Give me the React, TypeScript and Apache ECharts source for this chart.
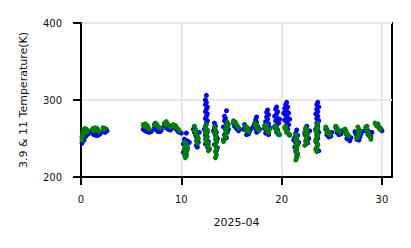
import React, { useEffect, useRef } from "react";
import * as echarts from "echarts";

const xTicks = [0, 10, 20, 30];
const yTicks = [200, 300, 400];

// 3.9 um brightness temperature (blue)
const blue39: number[][] = [
  [0.1,244],[0.2,247],[0.15,250],[0.3,252],[0.4,255],[0.5,256],[0.6,257],[0.7,258],[0.8,259],[0.3,248],[0.5,253],[0.7,256],
  [1.1,257],[1.3,255],[1.5,254],[1.7,254],[1.9,256],[2.0,258],[1.2,259],[1.6,257],
  [2.3,259],[2.4,258],[2.6,260],[2.5,262],
  [6.2,262],[6.4,260],[6.6,259],[6.8,258],[7.0,259],[6.3,264],[6.7,262],[6.5,263],
  [7.3,263],[7.5,261],[7.7,259],[7.9,259],[8.0,261],[7.4,265],[7.8,263],
  [8.3,266],[8.5,264],[8.7,262],[8.9,261],[9.0,263],[8.4,270],[8.8,265],
  [9.2,266],[9.4,264],[9.6,261],[9.8,258],[10.0,257],[9.5,262],[9.7,259],
  [10.5,257],[10.3,249],[10.4,246],[10.6,247],[10.2,243],[10.5,242],[10.7,244],[10.4,239],[10.3,236],[10.6,238],[10.2,232],[10.5,230],[10.8,245],
  [11.2,262],[11.3,258],[11.4,255],[11.5,252],[11.6,248],[11.7,245],[11.5,241],[11.8,258],[11.3,265],[11.6,239],
  [12.5,306],[12.4,300],[12.5,297],[12.4,294],[12.6,291],[12.5,288],[12.4,285],[12.6,282],[12.5,279],[12.4,276],[12.6,273],[12.5,270],[12.4,266],[12.3,262],[12.6,258],[12.4,254],[12.5,250],[12.7,246],[12.4,243],[12.6,239],[12.8,236],
  [13.3,270],[13.4,266],[13.3,262],[13.5,258],[13.4,254],[13.6,250],[13.5,246],[13.3,242],[13.6,238],[13.5,234],[13.2,260],
  [14.5,286],[14.3,279],[14.4,276],[14.3,273],[14.5,270],[14.6,267],[14.2,265],[14.4,262],[14.6,258],[14.3,255],[14.5,251],[14.2,248],[14.7,262],
  [15.2,270],[15.4,268],[15.6,265],[15.8,262],[15.5,263],[15.3,266],[15.7,260],
  [16.3,268],[16.4,264],[16.5,261],[16.6,258],[16.7,256],[16.8,259],[16.5,255],[16.9,262],[16.2,262],
  [17.5,278],[17.4,274],[17.5,271],[17.3,268],[17.6,266],[17.4,263],[17.7,260],[17.5,258],[17.8,262],[17.2,266],
  [18.6,287],[18.5,284],[18.7,281],[18.5,278],[18.6,275],[18.4,272],[18.7,269],[18.5,266],[18.3,263],[18.6,260],[18.4,257],[18.7,255],[18.8,264],
  [19.5,291],[19.4,288],[19.6,285],[19.5,282],[19.3,279],[19.6,276],[19.4,273],[19.7,270],[19.5,267],[19.3,264],[19.6,261],[19.5,258],[19.7,255],[19.8,275],
  [20.5,297],[20.4,294],[20.6,291],[20.3,289],[20.5,286],[20.7,283],[20.4,280],[20.6,277],[20.3,274],[20.5,271],[20.7,268],[20.4,265],[20.6,262],[20.5,258],[20.8,255],[20.2,283],[20.8,275],
  [21.5,261],[21.4,257],[21.6,254],[21.3,251],[21.5,248],[21.4,245],[21.6,242],[21.3,239],[21.5,236],[21.4,233],[21.6,230],[21.5,227],[21.7,245],[21.2,248],
  [22.5,266],[22.4,262],[22.6,259],[22.3,256],[22.5,253],[22.7,250],[22.4,247],[22.8,260],[22.6,244],
  [23.6,297],[23.5,294],[23.7,291],[23.5,288],[23.6,285],[23.4,282],[23.6,279],[23.5,276],[23.7,273],[23.5,270],[23.6,266],[23.4,262],[23.7,258],[23.5,254],[23.6,250],[23.4,246],[23.6,242],[23.5,238],[23.7,234],
  [24.4,262],[24.6,259],[24.8,256],[24.9,253],[24.5,255],[24.7,252],[25.0,258],
  [25.4,264],[25.6,261],[25.8,258],[25.9,256],[25.5,258],[25.7,255],[26.0,260],
  [26.3,262],[26.4,258],[26.5,255],[26.6,252],[26.7,249],[26.8,247],[26.9,251],[26.5,250],
  [27.3,259],[27.4,256],[27.5,253],[27.6,250],[27.7,248],[27.8,252],[27.9,256],[28.0,259],[27.5,249],
  [28.4,265],[28.5,262],[28.7,259],[28.8,256],[28.9,253],[28.6,255],[29.0,258],[28.3,260],
  [29.5,268],[29.7,265],[29.9,262],[30.0,260],[29.8,263],[29.6,266],
];

// 11 um brightness temperature (green)
const green11: number[][] = [
  [0.1,252],[0.15,256],[0.2,259],[0.3,262],[0.4,263],[0.5,262],[0.6,261],[0.2,254],[0.3,258],[0.45,259],[0.6,258],[0.1,248],
  [1.1,261],[1.2,263],[1.4,264],[1.5,262],[1.7,261],[1.8,259],[1.3,260],[1.6,263],
  [2.2,264],[2.3,262],[2.4,263],
  [6.2,268],[6.3,266],[6.5,265],[6.7,264],[6.8,262],[6.4,269],[6.6,267],
  [7.3,268],[7.4,270],[7.6,267],[7.7,265],[7.9,264],[7.5,269],
  [8.3,270],[8.5,272],[8.6,269],[8.8,267],[8.9,265],[8.4,268],
  [9.2,268],[9.3,266],[9.5,265],[9.7,262],[9.8,260],[9.4,267],
  [10.3,245],[10.5,243],[10.4,240],[10.6,238],[10.3,236],[10.5,234],[10.4,232],[10.3,229],[10.5,227],[10.4,225],[10.6,235],
  [11.3,266],[11.4,262],[11.5,259],[11.4,256],[11.6,253],[11.7,250],[11.5,247],[11.6,244],[11.3,260],
  [12.5,268],[12.4,264],[12.6,261],[12.4,258],[12.5,255],[12.6,252],[12.4,249],[12.5,246],[12.7,243],[12.6,240],[12.8,237],[12.7,234],
  [13.3,265],[13.4,261],[13.3,257],[13.5,253],[13.4,249],[13.5,245],[13.4,241],[13.5,237],[13.4,233],[13.5,229],[13.4,225],
  [14.6,271],[14.5,267],[14.6,264],[14.4,261],[14.5,258],[14.3,255],[14.4,252],[14.3,249],[14.2,246],[14.7,268],
  [15.2,273],[15.3,270],[15.5,268],[15.6,266],[15.7,264],[15.4,271],
  [16.4,266],[16.5,263],[16.6,260],[16.7,259],[16.4,261],[16.6,264],
  [17.3,270],[17.4,267],[17.5,265],[17.6,263],[17.7,261],[17.5,268],
  [18.3,267],[18.4,264],[18.5,262],[18.6,260],[18.7,258],[18.5,268],[18.8,262],
  [19.3,266],[19.4,263],[19.5,261],[19.6,259],[19.7,257],[19.8,255],[19.5,265],
  [20.3,264],[20.4,262],[20.5,260],[20.6,258],[20.7,256],[20.8,254],[20.4,266],
  [21.4,255],[21.5,252],[21.4,249],[21.5,246],[21.6,243],[21.4,240],[21.5,237],[21.4,234],[21.5,231],[21.6,228],[21.5,225],[21.4,222],
  [22.4,264],[22.5,261],[22.3,258],[22.6,256],[22.4,253],[22.5,250],[22.4,247],[22.5,244],[22.3,241],
  [23.6,270],[23.5,266],[23.6,263],[23.4,260],[23.5,257],[23.6,254],[23.5,251],[23.4,248],[23.5,245],[23.6,242],[23.5,239],[23.4,236],[23.5,233],
  [24.4,265],[24.5,262],[24.6,260],[24.7,257],[24.8,255],[24.5,258],
  [25.4,266],[25.5,264],[25.6,262],[25.7,260],[25.8,258],[25.5,261],
  [26.3,262],[26.4,260],[26.5,257],[26.6,255],[26.7,253],[26.4,256],
  [27.6,265],[27.7,262],[27.6,259],[27.7,256],[27.6,253],[27.5,251],[27.8,260],
  [28.4,264],[28.5,261],[28.6,258],[28.7,255],[28.8,252],[28.9,249],[28.5,266],
  [29.3,270],[29.4,268],[29.5,266],[29.7,264],[29.6,269],[29.8,262],
];

const FONT = "DejaVu Sans";

export default function App() {
  const ref = useRef<HTMLDivElement>(null);
  useEffect(() => {
    if (!ref.current) return;
    const chart = echarts.init(ref.current, null, { renderer: "svg" });
    chart.setOption({
      animation: false,
      grid: {
        left: 81,
        right: 19,
        top: 23,
        bottom: 71,
        show: true,
        borderColor: "#000",
        borderWidth: 2,
        backgroundColor: "transparent",
      },
      xAxis: {
        type: "value",
        min: 0,
        max: 31,
        interval: 10,
        name: "2025-04",
        nameLocation: "middle",
        nameGap: 40,
        nameTextStyle: { fontFamily: FONT, fontSize: 11, color: "#111" },
        axisLine: { show: true, lineStyle: { color: "#000", width: 2 } },
        axisTick: { show: true, length: 8, lineStyle: { color: "#000", width: 2 }, customValues: xTicks },
        axisLabel: { fontFamily: FONT, fontSize: 10, color: "#111", margin: 17, customValues: xTicks },
        splitLine: { show: true, lineStyle: { color: "#e8e8e8", width: 2 } },
      },
      yAxis: {
        type: "value",
        min: 200,
        max: 400,
        interval: 100,
        name: "3.9 & 11 Temperature(K)",
        nameLocation: "middle",
        nameGap: 52,
        nameTextStyle: { fontFamily: FONT, fontSize: 11, color: "#111" },
        axisLine: { show: true, lineStyle: { color: "#000", width: 2 } },
        axisTick: { show: true, length: 8, lineStyle: { color: "#000", width: 2 }, customValues: yTicks },
        axisLabel: { fontFamily: FONT, fontSize: 10, color: "#111", margin: 19, customValues: yTicks },
        splitLine: { show: true, lineStyle: { color: "#e8e8e8", width: 2 } },
      },
      series: [
        {
          type: "scatter",
          name: "3.9",
          data: blue39,
          symbol: "circle",
          symbolSize: 5,
          itemStyle: { color: "#0000ff", opacity: 1 },
        },
        {
          type: "scatter",
          name: "11",
          data: green11,
          symbol: "circle",
          symbolSize: 5,
          itemStyle: { color: "#008000", opacity: 1 },
        },
      ],
    });
    return () => chart.dispose();
  }, []);
  return (
    <div
      ref={ref}
      style={{ position: "fixed", left: 0, top: 0, width: 411, height: 248, background: "#fff" }}
    />
  );
}
